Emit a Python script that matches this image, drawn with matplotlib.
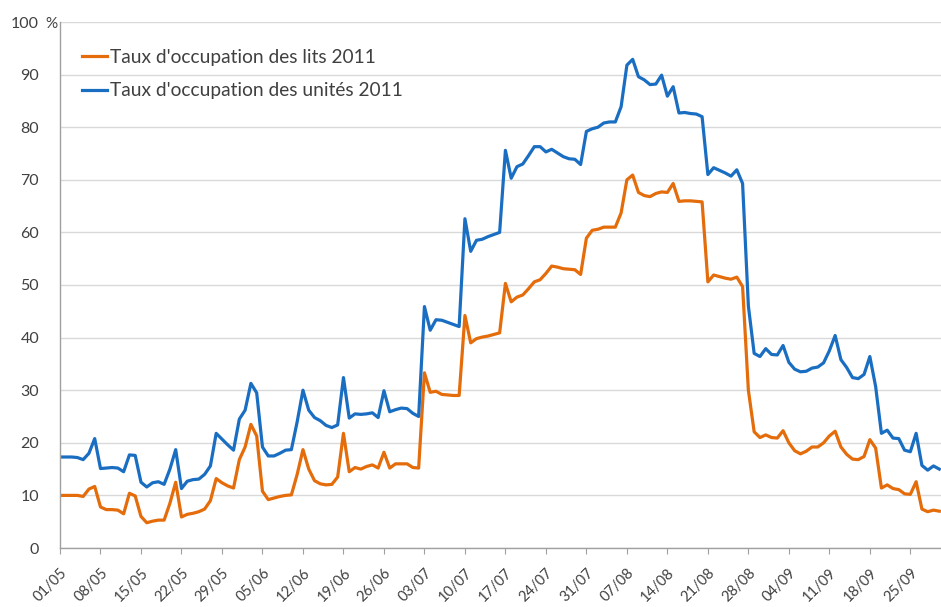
import matplotlib
matplotlib.use("Agg")
import matplotlib.pyplot as plt
import numpy as np

# Daily values 01/05 -> 30/09 (2011)
lits_2011 = [
    10.0, 10.0, 10.0, 10.0, 9.8, 11.2, 11.7, 7.8, 7.3, 7.3,
    7.2, 6.5, 10.4, 9.9, 6.0, 4.8, 5.1, 5.3, 5.3, 8.5,
    12.5, 5.9, 6.4, 6.6, 6.9, 7.4, 9.0, 13.2, 12.4, 11.8,
    11.4, 16.8, 19.2, 23.5, 21.3, 10.8, 9.2, 9.5, 9.8, 10.0,
    10.1, 14.0, 18.7, 15.0, 12.8, 12.2, 12.0, 12.1, 13.5, 21.8,
    14.5, 15.3, 15.0, 15.5, 15.8, 15.2, 18.2, 15.2, 16.0, 16.0,
    16.0, 15.3, 15.2, 33.3, 29.6, 29.8, 29.2, 29.1, 29.0, 29.0,
    44.2, 39.0, 39.8, 40.1, 40.3, 40.6, 40.9, 50.3, 46.8, 47.7,
    48.1, 49.3, 50.6, 51.0, 52.2, 53.6, 53.4, 53.1, 53.0, 52.9,
    52.0, 58.9, 60.4, 60.6, 61.0, 61.0, 61.0, 63.7, 70.0, 70.9,
    67.6, 67.0, 66.8, 67.4, 67.7, 67.6, 69.3, 65.9, 66.0, 66.0,
    65.9, 65.8, 50.6, 51.9, 51.6, 51.3, 51.1, 51.5, 49.7, 30.0,
    22.1, 21.0, 21.5, 21.0, 20.9, 22.3, 20.0, 18.5, 17.9, 18.4,
    19.2, 19.2, 20.0, 21.3, 22.2, 19.2, 17.8, 16.9, 16.8, 17.4,
    20.6, 19.0, 11.4, 12.0, 11.3, 11.1, 10.3, 10.2, 12.6, 7.4,
    6.9, 7.2, 7.0,
]
unites_2011 = [
    17.3, 17.3, 17.3, 17.2, 16.8, 18.0, 20.8, 15.1, 15.2, 15.3,
    15.2, 14.5, 17.7, 17.6, 12.5, 11.6, 12.4, 12.6, 12.1, 15.0,
    18.7, 11.3, 12.7, 13.0, 13.1, 14.0, 15.6, 21.8, 20.7, 19.6,
    18.6, 24.5, 26.2, 31.3, 29.5, 19.2, 17.5, 17.5, 18.0, 18.6,
    18.7, 24.0, 30.0, 26.2, 24.8, 24.2, 23.3, 22.9, 23.4, 32.4,
    24.7, 25.5, 25.4, 25.5, 25.7, 24.8, 29.9, 25.9, 26.3, 26.6,
    26.5, 25.6, 25.0, 45.9, 41.4, 43.4, 43.3, 42.9, 42.5, 42.1,
    62.6, 56.4, 58.5, 58.7, 59.2, 59.6, 60.0, 75.6, 70.3, 72.5,
    73.0, 74.6, 76.3, 76.3, 75.3, 75.8, 75.1, 74.4, 74.0, 73.9,
    72.9, 79.2, 79.7, 80.0, 80.8, 81.0, 81.0, 83.9, 91.8, 92.9,
    89.6, 89.0, 88.1, 88.2, 89.9, 85.9, 87.7, 82.7, 82.8, 82.6,
    82.5, 82.0, 71.0, 72.3, 71.8, 71.3, 70.7, 71.9, 69.3, 46.0,
    37.0, 36.4, 37.9, 36.8, 36.7, 38.5, 35.3, 34.0, 33.5, 33.6,
    34.2, 34.4, 35.2, 37.5, 40.4, 35.8, 34.3, 32.4, 32.2, 33.0,
    36.4, 30.7, 21.8, 22.4, 20.9, 20.8, 18.6, 18.3, 21.8, 15.7,
    14.8, 15.6, 15.0,
]
tick_labels = ["01/05", "08/05", "15/05", "22/05", "29/05", "05/06", "12/06",
               "19/06", "26/06", "03/07", "10/07", "17/07", "24/07", "31/07",
               "07/08", "14/08", "21/08", "28/08", "04/09", "11/09", "18/09",
               "25/09"]
y_labels = ["0", "10", "20", "30", "40", "50", "60", "70", "80", "90", "100"]
y_unit = "%"
series_names = ["Taux d'occupation des lits 2011",
                "Taux d'occupation des unités 2011"]

plt.rcParams['font.family'] = ['Lato', 'DejaVu Sans']

fig = plt.figure(figsize=(9.41, 6.07), dpi=100)
ax = fig.add_axes([60/941, 59/607, 881/941, 526/607])

days = np.arange(len(lits_2011))
orange = '#E46C0A'
blue = '#1A6EC2'
ax.plot(days, lits_2011, color=orange, lw=2.3, label=series_names[0], solid_joinstyle='round')
ax.plot(days, unites_2011, color=blue, lw=2.3, label=series_names[1], solid_joinstyle='round')

ax.set_xlim(0, 152.3)
ax.set_ylim(0, 100)
ax.set_yticks(np.arange(0, 101, 10))
ax.set_yticklabels(y_labels)
ax.set_xticks(np.arange(0, 7 * len(tick_labels), 7))
ax.set_xticklabels(tick_labels, rotation=45, ha='right', rotation_mode='anchor')

ax.grid(axis='y', color='#D9D9D9', lw=1.0)
ax.set_axisbelow(True)
for s in ['top', 'right']:
    ax.spines[s].set_visible(False)
for s in ['left', 'bottom']:
    ax.spines[s].set_color('#A0A0A0')
    ax.spines[s].set_linewidth(1.0)

ax.tick_params(axis='y', length=0, pad=15, labelsize=11.5, labelcolor='#404040')
ax.tick_params(axis='x', length=4, color='#A0A0A0', pad=9, labelsize=10.5, labelcolor='#404040')

fig.text(45/941, 1 - 22/607, y_unit, ha='left', va='center_baseline', fontsize=11, color='#404040')

leg = ax.legend(loc='upper left', bbox_to_anchor=(82/941, 1 - 49/607),
                bbox_transform=fig.transFigure, frameon=False, fontsize=13.8,
                handlelength=1.3, handletextpad=0.15, labelspacing=0.85,
                borderaxespad=0, borderpad=0)
for t in leg.get_texts():
    t.set_color('#404040')

fig.savefig('out.png', dpi=100)
